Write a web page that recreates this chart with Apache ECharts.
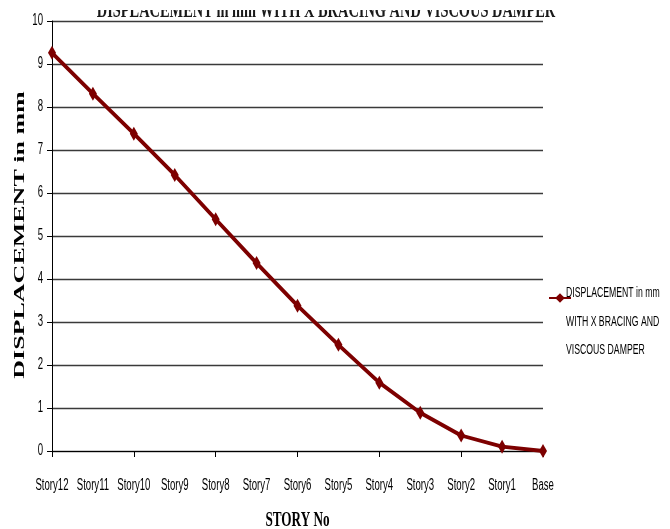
<!DOCTYPE html>
<html>
<head>
<meta charset="utf-8">
<script src="https://cdn.jsdelivr.net/npm/echarts@6/dist/echarts.min.js"></script>
<style>
  html, body { margin: 0; padding: 0; background: #fff; }
  #chart { width: 670px; height: 529px; }
</style>
</head>
<body>
<div id="chart"></div>
<script>
// Story levels, top floor first
const stories = ['Story12', 'Story11', 'Story10', 'Story9', 'Story8', 'Story7', 'Story6',
                 'Story5', 'Story4', 'Story3', 'Story2', 'Story1', 'Base'];
// Lateral displacement (mm) with X bracing and viscous damper
const displacement = [9.26, 8.31, 7.38, 6.42, 5.39, 4.37, 3.38, 2.47, 1.59, 0.89, 0.36, 0.10, 0];
// Value axis tick labels
const yTicks = [0, 1, 2, 3, 4, 5, 6, 7, 8, 9, 10];
const seriesName = 'DISPLACEMENT in mm WITH X BRACING AND VISCOUS DAMPER';
const legendLines = ['DISPLACEMENT in mm', 'WITH X BRACING AND', 'VISCOUS DAMPER'];
const chartTitle = 'DISPLACEMENT in mm WITH X BRACING AND VISCOUS DAMPER';
const xTitle = 'STORY No';
const yTitle = 'DISPLACEMENT in mm';

const sans = '"Liberation Sans", Arial, sans-serif';
const serif = '"Liberation Serif", "Times New Roman", serif';
const lineColor = '#7d0000';
const squeeze = 0.6;   // condensed lettering

const chart = echarts.init(document.getElementById('chart'), null, { renderer: 'canvas' });

chart.setOption({
  backgroundColor: '#ffffff',
  animation: false,
  grid: { left: 52, right: 127, top: 21, bottom: 78, containLabel: false },
  legend: {
    orient: 'vertical',
    left: 543,
    top: 287,
    itemWidth: 22,
    itemHeight: 12,
    formatter: () => '',
    data: [seriesName]
  },
  xAxis: {
    type: 'category',
    data: stories,
    boundaryGap: false,
    axisLine: { lineStyle: { color: '#000', width: 1 } },
    axisTick: { show: true, length: 6, alignWithLabel: true, lineStyle: { color: '#000' } },
    axisLabel: { show: false },
    splitLine: { show: false }
  },
  yAxis: {
    type: 'value',
    min: 0,
    max: 10,
    interval: 1,
    axisLine: { show: true, lineStyle: { color: '#000', width: 1 } },
    axisTick: { show: true, length: 5, lineStyle: { color: '#000' } },
    axisLabel: { show: false },
    splitLine: { show: true, lineStyle: { color: '#3a3a3a', width: 1.3 } }
  },
  series: [{
    name: seriesName,
    type: 'line',
    data: displacement,
    symbol: 'diamond',
    symbolSize: [8, 14],
    showAllSymbol: true,
    lineStyle: { color: lineColor, width: 3.8 },
    itemStyle: { color: lineColor }
  }]
});

// Condensed text helper: horizontally squeezed lettering
function label(text, x, y, font, align, fill, z) {
  return {
    type: 'text',
    x: x,
    y: y,
    scaleX: squeeze,
    silent: true,
    z: z || 10,
    style: {
      text: text,
      font: font,
      fill: fill || '#000',
      textAlign: align,
      textVerticalAlign: 'middle'
    }
  };
}

const y0 = chart.convertToPixel({ yAxisIndex: 0 }, 0);
const xLeft = chart.convertToPixel({ xAxisIndex: 0 }, stories[0]);
const xRight = chart.convertToPixel({ xAxisIndex: 0 }, stories[stories.length - 1]);
const graphics = [];

// category labels
stories.forEach(function (s) {
  graphics.push(label(s, chart.convertToPixel({ xAxisIndex: 0 }, s), y0 + 35, '16px ' + sans, 'center'));
});
// value labels
yTicks.forEach(function (v) {
  graphics.push(label(String(v), xLeft - 9, chart.convertToPixel({ yAxisIndex: 0 }, v), '16px ' + sans, 'right'));
});
// axis titles
graphics.push(label(xTitle, (xLeft + xRight) / 2, y0 + 69, 'bold 22px ' + serif, 'center'));
graphics.push({
  type: 'text',
  x: 20,
  y: 235,
  rotation: Math.PI / 2,
  scaleY: squeeze,
  silent: true,
  style: {
    text: yTitle,
    font: 'bold 26px ' + serif,
    fill: '#000',
    textAlign: 'center',
    textVerticalAlign: 'middle'
  }
});
// legend text
legendLines.forEach(function (t, i) {
  graphics.push(label(t, 566, 293 + i * 28.5, '14.5px ' + sans, 'left'));
});
// chart title, its upper part masked along the top edge
graphics.push(label(chartTitle, 326, 11, 'bold 24px ' + serif, 'center', '#1a1a1a', 5));
graphics.push({
  type: 'rect',
  silent: true,
  z: 20,
  shape: { x: 60, y: 0, width: 540, height: 10 },
  style: { fill: '#ffffff' }
});

chart.setOption({ graphic: graphics });
</script>
</body>
</html>
